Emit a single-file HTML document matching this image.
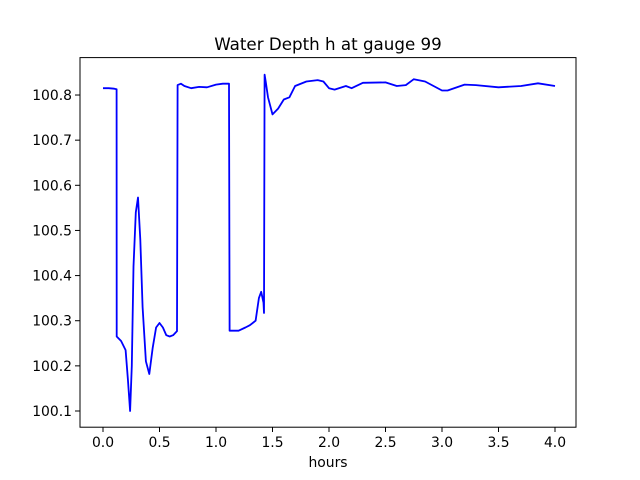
<!DOCTYPE html>
<html><head><meta charset="utf-8"><style>body{margin:0;background:#fff}svg{display:block;font-family:"DejaVu Sans","Liberation Sans",sans-serif}</style></head>
<body>
<svg id="chart" width="640" height="480">
<rect x="0" y="0" width="640" height="480" fill="#fff"/>
<text x="328" y="50" font-size="16.7" text-anchor="middle">Water Depth h at gauge 99</text>
<text x="328" y="467" font-size="13.9" text-anchor="middle">hours</text>
<g id="ticks"></g>
<path id="line" fill="none" stroke="#0000ff" stroke-width="1.8" stroke-linejoin="round"/>
<rect x="80" y="57.6" width="496" height="369.6" fill="none" stroke="#000" stroke-width="1"/>
</svg>
<script>
const hours=[0,0.05,0.1,0.12,0.121,0.16,0.2,0.22,0.24,0.255,0.27,0.29,0.31,0.33,0.35,0.38,0.41,0.44,0.47,0.5,0.53,0.56,0.59,0.62,0.655,0.66,0.69,0.72,0.78,0.85,0.92,1.0,1.06,1.115,1.12,1.2,1.26,1.3,1.35,1.38,1.4,1.42,1.425,1.43,1.44,1.46,1.5,1.55,1.6,1.65,1.7,1.8,1.9,1.95,2.0,2.05,2.15,2.2,2.3,2.5,2.6,2.68,2.75,2.85,3.0,3.05,3.2,3.3,3.5,3.7,3.85,4.0];
const depth=[100.815,100.815,100.814,100.813,100.265,100.255,100.235,100.17,100.10,100.20,100.42,100.54,100.573,100.48,100.33,100.21,100.182,100.24,100.285,100.295,100.285,100.268,100.265,100.268,100.277,100.822,100.825,100.82,100.815,100.818,100.817,100.823,100.825,100.825,100.278,100.278,100.285,100.29,100.30,100.35,100.364,100.34,100.317,100.845,100.83,100.795,100.757,100.77,100.79,100.795,100.82,100.83,100.833,100.83,100.815,100.812,100.82,100.815,100.827,100.828,100.82,100.822,100.835,100.83,100.81,100.81,100.823,100.822,100.817,100.82,100.826,100.82];
const xTicks=[0,0.5,1,1.5,2,2.5,3,3.5,4];
const xTickLabels=["0.0","0.5","1.0","1.5","2.0","2.5","3.0","3.5","4.0"];
const yTicks=[100.1,100.2,100.3,100.4,100.5,100.6,100.7,100.8];
const xs=v=>103+v*113;
const ys=v=>411-(v-100.1)*451.4;
const g=document.getElementById('ticks');
const NS='http://www.w3.org/2000/svg';
function el(t,a){const e=document.createElementNS(NS,t);for(const k in a)e.setAttribute(k,a[k]);g.appendChild(e);return e;}
xTicks.forEach((v,i)=>{
 const l=el('line',{x1:xs(v),x2:xs(v),y1:427.2,y2:432,stroke:'#000'});
 
 
 const t=el('text',{x:xs(v),y:447,'font-size':13.9,'text-anchor':'middle'});t.textContent=xTickLabels[i];
 
 
});
yTicks.forEach(v=>{
 const l=el('line',{x1:75,x2:80,y1:ys(v),y2:ys(v),stroke:'#000'});
 
 
 const t=el('text',{x:72,y:ys(v)+5,'font-size':13.9,'text-anchor':'end'});t.textContent=v.toFixed(1);
 
 
});
document.getElementById('line').setAttribute('d',hours.map((h,i)=>(i?'L':'M')+xs(h).toFixed(1)+','+ys(depth[i]).toFixed(1)).join(''));
</script>
</body></html>
